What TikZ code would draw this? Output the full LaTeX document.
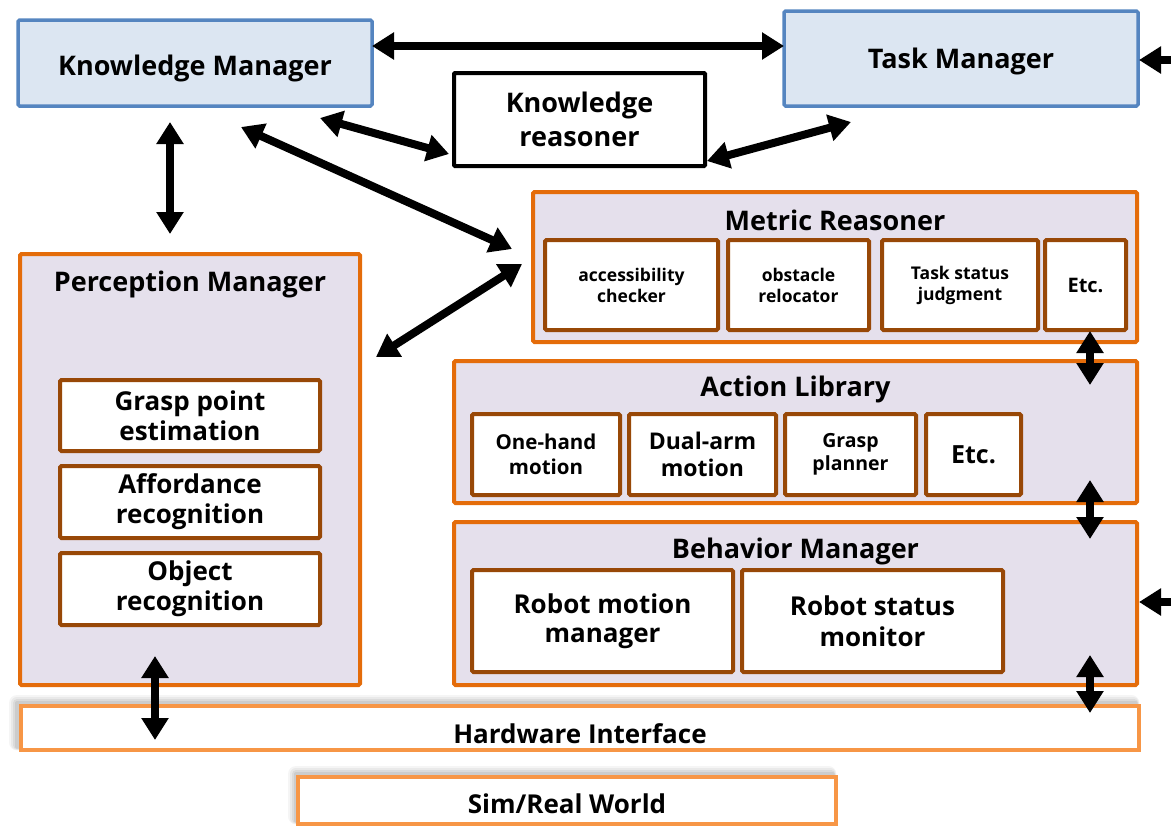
\documentclass[tikz,border=0pt]{standalone}
\usepackage{fontspec}
\setmainfont{Open Sans}
\usetikzlibrary{arrows.meta}
\definecolor{bfill}{HTML}{DCE6F2}
\definecolor{bdraw}{HTML}{5585C0}
\definecolor{pfill}{HTML}{E5E0EC}
\definecolor{odraw}{HTML}{E46C0A}
\definecolor{brdraw}{HTML}{984807}
\definecolor{hdraw}{HTML}{F79646}
\tikzset{
  fs/.style={font=\bfseries\fontsize{#1}{\dimexpr #1pt*12/10\relax}\selectfont},
  oneline/.style={text height=#1, text depth=0pt},
  bluebox/.style={draw=bdraw, fill=bfill, line width=3.5pt, rounded corners=1.5pt, align=center, fs=27, inner sep=0pt},
  outerbox/.style={draw=odraw, fill=pfill, line width=4pt, rounded corners=1.5pt, inner sep=0pt},
  innerbox/.style={draw=brdraw, fill=white, line width=4pt, rounded corners=1.5pt, align=center, inner sep=0pt},
  blackbox/.style={draw=black, fill=white, line width=4pt, rounded corners=1pt, align=center, fs=27, inner sep=0pt},
  hwbox/.style={draw=hdraw, fill=white, line width=3.5pt, inner sep=0pt, fs=26},
  title/.style={fs=27, inner sep=0pt},
  link/.style={line width=8pt, {Triangle[width=26pt,length=22pt]}-{Triangle[width=26pt,length=22pt]}},
  inlink/.style={line width=8pt, -{Triangle[width=26pt,length=22pt]}},
}
\begin{document}
\begin{tikzpicture}[x=1pt,y=-1pt]
\useasboundingbox (0,0) rectangle (1171,827);
% top
\node[bluebox, oneline=24pt, minimum width=354pt, minimum height=86pt] (km) at (195,63) {Knowledge Manager};
\node[bluebox, oneline=20pt, minimum width=354pt, minimum height=95pt] (tm) at (961,58.5) {Task Manager};
\node[blackbox, minimum width=251pt, minimum height=93pt] (kr) at (579.5,119.5) {\raisebox{2pt}{Knowledge}\\[0pt]reasoner};
% metric reasoner
\node[outerbox, minimum width=604pt, minimum height=150pt] (mr) at (835,267) {};
\node[title] (mrt) at (835,220) {Metric Reasoner};
\node[innerbox, fs=17.5, minimum width=173pt, minimum height=90pt] (acc) at (631.5,285) {accessibility\\checker};
\node[innerbox, fs=17.5, minimum width=141pt, minimum height=90pt] (obs) at (798.5,285) {obstacle\\relocator};
\node[innerbox, fs=17.5, minimum width=156pt, minimum height=90pt] (tsj) at (960,285) {Task status\\judgment};
\node[innerbox, fs=20, oneline=14.3pt, minimum width=81pt, minimum height=90pt] (etca) at (1085.5,285) {Etc.};
% action library
\node[outerbox, minimum width=683pt, minimum height=142pt] (al) at (795.5,432) {};
\node[title] (alt) at (795.5,389) {Action Library};
\node[innerbox, fs=20.5, minimum width=148pt, minimum height=81pt] (one) at (546,454.5) {One-hand\\motion};
\node[innerbox, fs=23, minimum width=147pt, minimum height=81pt] (dual) at (702.5,454.5) {Dual-arm\\motion};
\node[innerbox, fs=19.5, minimum width=131pt, minimum height=81pt] (gp) at (850.5,454.5) {Grasp\\planner};
\node[innerbox, fs=25, oneline=18pt, minimum width=95pt, minimum height=81pt] (etcb) at (973.5,454.5) {Etc.};
% behavior manager
\node[outerbox, minimum width=683pt, minimum height=163pt] (bm) at (795.5,603.5) {};
\node[title] (bmt) at (795.5,551) {Behavior Manager};
\node[innerbox, fs=26, minimum width=261pt, minimum height=102pt] (rmm) at (602.5,621) {\raisebox{-2pt}{Robot motion}\\manager};
\node[innerbox, fs=26, minimum width=261pt, minimum height=102pt] (rsm) at (872.5,621) {Robot status\\monitor};
% perception manager
\node[outerbox, minimum width=340pt, minimum height=431pt] (pm) at (190,469.5) {};
\node[title] (pmt) at (190,284) {Perception Manager};
\node[innerbox, fs=26, minimum width=260pt, minimum height=71pt] (gpe) at (190,415.5) {\raisebox{1pt}{Grasp point}\\[-2pt]estimation};
\node[innerbox, fs=26, minimum width=260pt, minimum height=72pt] (aff) at (190,502) {\raisebox{1pt}{Affordance}\\[-2pt]recognition};
\node[innerbox, fs=26, minimum width=260pt, minimum height=72pt] (obj) at (190,589) {\raisebox{1pt}{Object}\\[-2pt]recognition};
% hardware & world with soft shadows
\foreach \d/\o in {8/0.04,6/0.05,4/0.06,2/0.07}{
  \fill[black, opacity=\o, rounded corners=\d pt] (17-\d,703-\d) rectangle (1137+\d*0.3,748+\d*0.3);
  \fill[black, opacity=\o, rounded corners=\d pt] (296-\d,774-\d) rectangle (834+\d*0.3,822+\d*0.3);
}
\node[hwbox, oneline=30pt, minimum width=1118pt, minimum height=44pt] (hw) at (580,728) {Hardware Interface};
\node[hwbox, oneline=25.5pt, minimum width=538pt, minimum height=47pt] (srw) at (567,800.5) {Sim/Real World};
% connector end points
\coordinate (kmR) at (372,46);
\coordinate (tmL) at (784,46);
\coordinate (kmB) at (170,122);
\coordinate (pmT) at (170,234);
\coordinate (kmKR) at (320,118);
\coordinate (krL) at (449,154);
\coordinate (kmMR) at (241,127);
\coordinate (mrL1) at (512,249);
\coordinate (krR) at (707,161);
\coordinate (tmB) at (851,122);
\coordinate (pmR) at (376,357);
\coordinate (mrL2) at (522,264);
\coordinate (mrB) at (1090,331);
\coordinate (alT) at (1090,385);
\coordinate (alB) at (1090,480);
\coordinate (bmT) at (1090,539);
\coordinate (bmB) at (1090,655);
\coordinate (hwT) at (1090,713);
\coordinate (pmB) at (155,656);
\coordinate (hwL) at (155,740);
\coordinate (extA) at (1178,60);
\coordinate (tmR) at (1139,60);
\coordinate (extB) at (1178,602);
\coordinate (bmR) at (1139,602);
% connectors
\draw[link] (kmR) -- (tmL);
\draw[link] (kmB) -- (pmT);
\draw[link] (kmKR) -- (krL);
\draw[link] (kmMR) -- (mrL1);
\draw[link] (krR) -- (tmB);
\draw[link] (pmR) -- (mrL2);
\draw[link] (mrB) -- (alT);
\draw[link] (alB) -- (bmT);
\draw[link] (bmB) -- (hwT);
\draw[link] (pmB) -- (hwL);
\draw[inlink] (extA) -- (tmR);
\draw[inlink] (extB) -- (bmR);
\end{tikzpicture}
\end{document}
